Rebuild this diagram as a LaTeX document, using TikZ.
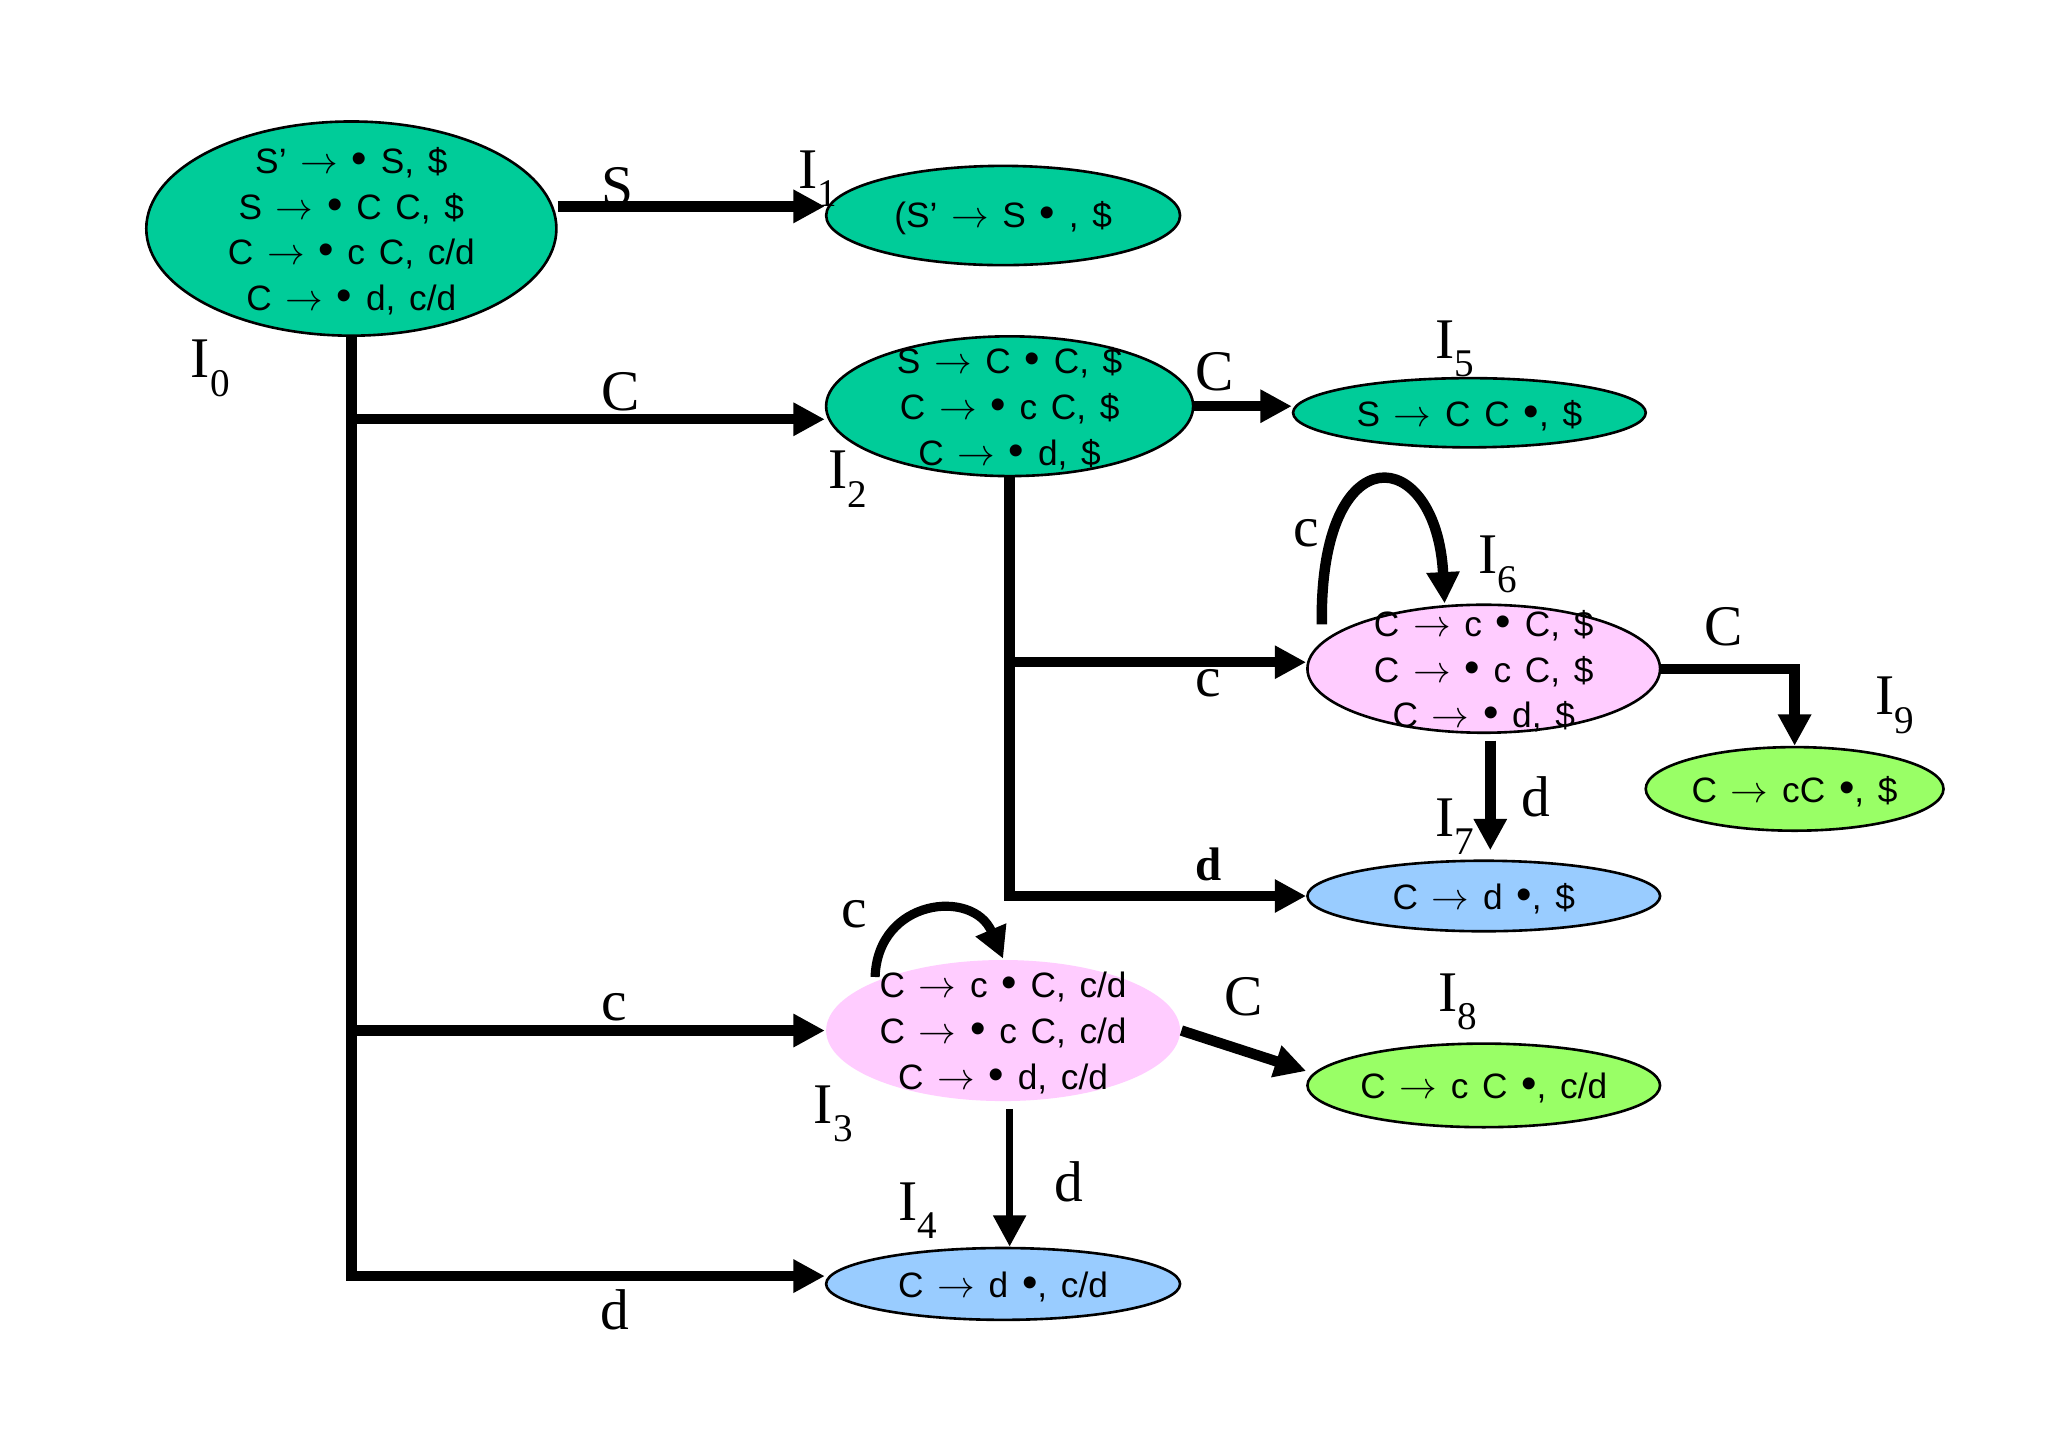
\documentclass[tikz,border=0pt]{standalone}
\usepackage{fontspec}
\setmainfont{Liberation Serif}
\newfontfamily\arialf{Liberation Sans}[WordSpace=1.4]
\usetikzlibrary{shapes.geometric,arrows.meta,calc}
\definecolor{tealA}{RGB}{0,204,153}
\definecolor{pinkA}{RGB}{255,204,255}
\definecolor{blueA}{RGB}{153,204,255}
\definecolor{greenA}{RGB}{153,255,102}
\newcommand\St[1]{I\raisebox{-0.32em}{\fontsize{15}{15}\selectfont #1}}
\newcommand\ra{$\rightarrow$}
\newcommand\dt{\scalebox{1.25}{•}}
\tikzset{
  stbox/.style={ellipse, draw=black, line width=1pt, inner sep=0pt},
  itext/.style={font=\arialf\fontsize{13.5}{17.5}\selectfont, align=center, inner sep=0pt, yshift=-1pt},
  arr/.style={line width=4pt, -{Triangle[length=12pt,width=12pt]}},
  elab/.style={font=\fontsize{22}{22}\selectfont, inner sep=0pt},
  slab/.style={font=\fontsize{22}{22}\selectfont, inner sep=0pt},
}
\begin{document}
\begin{tikzpicture}[x=0.5pt,y=-0.5pt]
\fill[white] (0,0) rectangle (1568,1108);
\useasboundingbox (0,0) rectangle (1568,1108);

% states
\node[stbox, fill=tealA, minimum width=157pt, minimum height=82pt,
  label={[itext]center:{S’ \ra{} \dt{} S, \$\\S \ra{} \dt{} C C, \$\\C \ra{} \dt{} c C, c/d\\C \ra{} \dt{} d, c/d}}] (I0) at (269,175) {};
\node[stbox, fill=tealA, minimum width=135.5pt, minimum height=38pt,
  label={[itext]center:{(S’ \ra{} S \dt{} , \$}}] (I1) at (768,165) {};
\node[stbox, fill=tealA, minimum width=140.5pt, minimum height=53.5pt,
  label={[itext]center:{S \ra{} C \dt{} C, \$\\C \ra{} \dt{} c C, \$\\C \ra{} \dt{} d, \$}}] (I2) at (773,311) {};
\node[stbox, fill=tealA, minimum width=135pt, minimum height=26.5pt,
  label={[itext]center:{S \ra{} C C \dt, \$}}] (I5) at (1125,316) {};
\node[stbox, fill=pinkA, minimum width=135pt, minimum height=49pt,
  label={[itext]center:{C \ra{} c \dt{} C, \$\\C \ra{} \dt{} c C, \$\\C \ra{} \dt{} d, \$}}] (I6) at (1136,512) {};
\node[stbox, fill=greenA, minimum width=114pt, minimum height=32pt,
  label={[itext]center:{C \ra{} cC \dt, \$}}] (I9) at (1374,604) {};
\node[stbox, fill=blueA, minimum width=135pt, minimum height=27pt,
  label={[itext]center:{C \ra{} d \dt, \$}}] (I7) at (1136,686) {};
\node[stbox, draw=none, fill=pinkA, minimum width=135.5pt, minimum height=54pt,
  label={[itext]center:{C \ra{} c \dt{} C, c/d\\C \ra{} \dt{} c C, c/d\\C \ra{} \dt{} d, c/d}}] (I3) at (768,789) {};
\node[stbox, fill=greenA, minimum width=135pt, minimum height=32pt,
  label={[itext]center:{C \ra{} c C \dt, c/d}}] (I8) at (1136,831) {};
\node[stbox, fill=blueA, minimum width=135.5pt, minimum height=27.5pt,
  label={[itext]center:{C \ra{} d \dt, c/d}}] (I4) at (768,983) {};

% state names
\node[slab] (n0) at (161,282) {\St{0}};
\node[slab] (n1) at (626,137) {\St{1}};
\node[slab] (n2) at (649,367) {\St{2}};
\node[slab] (n5) at (1114,267) {\St{5}};
\node[slab] (n6) at (1147,432) {\St{6}};
\node[slab] (n9) at (1451,540) {\St{9}};
\node[slab] (n7) at (1114,633) {\St{7}};
\node[slab] (n3) at (638,853) {\St{3}};
\node[slab] (n4) at (703,927) {\St{4}};
\node[slab] (n8) at (1116,767) {\St{8}};

% entry points
\coordinate (i1in) at ([yshift=3.5pt]I1.west);
\coordinate (i2in) at ([yshift=-5pt]I2.west);
\coordinate (i4in) at ([yshift=3pt]I4.west);
\coordinate (i6in) at ([yshift=2.5pt]I6.west);
\coordinate (l6) at (1012,478);
\coordinate (l3) at (670,748);

% connectors
\draw[arr] (I0.east |- i1in) -- (i1in);
\draw[arr] (I0.south) |- (i4in);
\draw[arr, line cap=rect] (I0.south |- i2in) -- (i2in);
\draw[arr, line cap=rect] (I0.south |- I3.west) -- (I3.west);
\draw[arr] (I2.east) -- (I2.east -| I5.west);
\draw[arr] (I2.south) |- (I7.west);
\draw[arr] (I2.south |- i6in) -- (i6in);
\draw[arr] (l6) .. controls (1010,330) and (1100,340) .. ([xshift=-15pt]I6.north);
\draw[arr] (I6.east) -| (I9.north);
\draw[arr] ([xshift=2.5pt,yshift=-2.5pt]I6.south) -- ([xshift=2.5pt,yshift=3.5pt]I7.north);
\draw[arr, line width=3.5pt] (l3) .. controls (672,688) and (745,680) .. (I3.north);
\draw[arr] (I3.east) -- ([yshift=5.5pt]I8.west);
\draw[arr, line width=2.8pt] ([xshift=2.5pt,yshift=-2.5pt]I3.south) -- ([xshift=2.5pt]I4.north);

% edge labels
\node[elab] (eS) at (473,143) {S};
\node[elab] (eC1) at (475,300) {C};
\node[elab] (ec1) at (470,771) {c};
\node[elab] (ed1) at (471,1003) {d};
\node[elab] (eC2) at (930,285) {C};
\node[elab] (ec2) at (925,523) {c};
\node[elab, font=\fontsize{18}{18}\selectfont\bfseries] (ed2) at (925,662) {d};
\node[elab] (ec3) at (1000,408) {c};
\node[elab] (eC3) at (1320,480) {C};
\node[elab] (ed3) at (1176,610) {d};
\node[elab] (ec4) at (654,700) {c};
\node[elab] (eC4) at (952,763) {C};
\node[elab] (ed4) at (818,905) {d};
\end{tikzpicture}
\end{document}
